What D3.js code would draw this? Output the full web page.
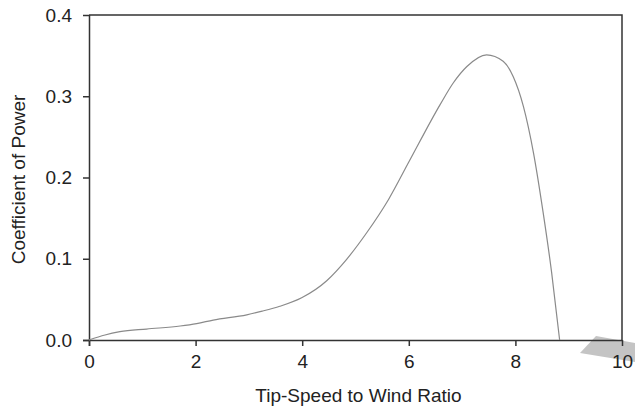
<!DOCTYPE html>
<html><head><meta charset="utf-8">
<script src="https://cdn.jsdelivr.net/npm/d3@7"></script>
<style>body{margin:0;background:#fff}svg{display:block}text{font-family:"Liberation Sans",Arial,sans-serif;fill:#222}</style>
</head><body><svg id="c" width="635" height="409"></svg>
<script>
const tsr = [0, 0.3, 0.58, 1.08, 1.71, 2.02, 2.33, 2.96, 3.25, 3.58, 3.99, 4.46, 4.83, 5.21, 5.62, 6.0, 6.59, 6.83, 7.09, 7.46, 7.77, 7.96, 8.15, 8.34, 8.52, 8.68, 8.83];
const cp  = [0, 0.0062, 0.0102, 0.0135, 0.0172, 0.0202, 0.0245, 0.031, 0.0355, 0.0415, 0.052, 0.073, 0.099, 0.132, 0.173, 0.219, 0.29, 0.316, 0.3366, 0.351, 0.343, 0.324, 0.2875, 0.23, 0.157, 0.083, 0];
const xTicks = [0, 2, 4, 6, 8, 10];
const yTicks = [0.0, 0.1, 0.2, 0.3, 0.4];
const xTitle = "Tip-Speed to Wind Ratio";
const yTitle = "Coefficient of Power";

const svg = d3.select("#c");
const L = 89, R = 622, T = 15, B = 340;
const x = d3.scaleLinear().domain([0, 10]).range([L, R]);
const y = d3.scaleLinear().domain([0, 0.4]).range([B, T]);

svg.append("polygon").attr("points", "580,353 596,336 635,343 635,362").attr("fill", "#c4c4c4");

svg.append("path").attr("d", `M${L},${T}H${R}V${B}`).attr("fill", "none").attr("stroke", "#333").attr("stroke-width", 1.5);

const xa = svg.append("g").attr("transform", `translate(0,${B})`)
  .call(d3.axisBottom(x).tickValues(xTicks).tickFormat(d3.format("d")).tickSize(6).tickPadding(9));
const ya = svg.append("g").attr("transform", `translate(${L},0)`)
  .call(d3.axisLeft(y).tickValues(yTicks).tickFormat(d3.format(".1f")).tickSize(6).tickPadding(11));
[xa, ya].forEach(a => {
  a.select(".domain").attr("stroke", "#333").attr("stroke-width", 1.5);
  a.selectAll(".tick line").attr("stroke", "#333").attr("stroke-width", 1.5);
  a.selectAll("text").attr("font-size", 19).attr("fill", "#222").attr("font-family", '"Liberation Sans",Arial,sans-serif');
});
xa.select(".domain").attr("d", `M${L-6},0.5H${R}`);
ya.select(".domain").attr("d", `M0.5,${T}V${B+6}`);

svg.append("path").datum(tsr.map((t, i) => [t, cp[i]]))
  .attr("d", d3.line().x(d => x(d[0])).y(d => y(d[1])).curve(d3.curveMonotoneX))
  .attr("fill", "none").attr("stroke", "#8a8a8a").attr("stroke-width", 1.2);

svg.append("text").attr("x", (L + R) / 2 + 3).attr("y", 402).attr("text-anchor", "middle").attr("font-size", 19).text(xTitle);
svg.append("text").attr("transform", `translate(25,${(T + B) / 2 + 2}) rotate(-90)`).attr("text-anchor", "middle").attr("font-size", 19).text(yTitle);
</script></body></html>
